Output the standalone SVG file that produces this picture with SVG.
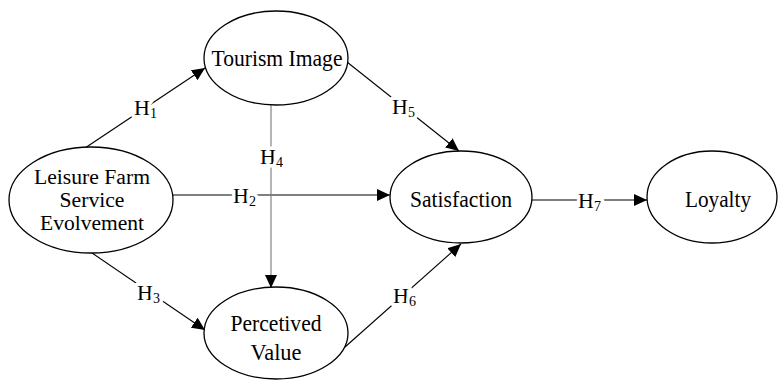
<svg xmlns="http://www.w3.org/2000/svg" width="778" height="380" viewBox="0 0 778 380">
<style>
.node{fill:#fff;stroke:#000;stroke-width:1.3}
.nt{font-family:'Liberation Serif','Times New Roman',serif;font-size:23.5px;fill:#000;text-anchor:middle}
.nt2{font-size:20.5px}
.edge{stroke:#000;stroke-width:1.1;fill:none}
.gray{stroke:#777}
.lbl{font-family:'Liberation Serif','Times New Roman',serif;font-size:22px;fill:#000;stroke:#fff;stroke-width:7;paint-order:stroke;stroke-linejoin:round}
.sub{font-size:14px}
</style>
<defs>
<marker id="ah" markerUnits="userSpaceOnUse" markerWidth="14" markerHeight="12" refX="13" refY="6" orient="auto">
<path d="M0,0 L13,6 L0,12 Z" fill="#000"/>
</marker>
</defs>
<rect width="778" height="380" fill="#fff"/>
<g id="connectors">
<line class="edge" x1="85" y1="148" x2="205" y2="68" marker-end="url(#ah)"/>
<line class="edge" x1="173" y1="195" x2="390" y2="195" marker-end="url(#ah)"/>
<line class="edge" x1="92" y1="253" x2="205" y2="330" marker-end="url(#ah)"/>
<line class="edge gray" x1="271" y1="105" x2="271" y2="288" marker-end="url(#ah)"/>
<line class="edge" x1="347" y1="62" x2="459" y2="151" marker-end="url(#ah)"/>
<line class="edge" x1="345" y1="347" x2="461" y2="244" marker-end="url(#ah)"/>
<line class="edge" x1="532" y1="200" x2="647" y2="200" marker-end="url(#ah)"/>
<text class="lbl" x="134" y="115">H<tspan class="sub" dy="3">1</tspan></text>
<text class="lbl" x="233" y="203">H<tspan class="sub" dy="3">2</tspan></text>
<text class="lbl" x="137" y="300">H<tspan class="sub" dy="3">3</tspan></text>
<text class="lbl" x="260" y="164">H<tspan class="sub" dy="3">4</tspan></text>
<text class="lbl" x="392" y="114">H<tspan class="sub" dy="3">5</tspan></text>
<text class="lbl" x="393" y="303">H<tspan class="sub" dy="3">6</tspan></text>
<text class="lbl" x="578" y="208">H<tspan class="sub" dy="3">7</tspan></text>
</g>
<g id="node-tourism">
<ellipse class="node" cx="276" cy="58" rx="72" ry="47"/>
<text class="nt" x="277" y="66" textLength="131" lengthAdjust="spacingAndGlyphs">Tourism Image</text>
</g>
<g id="node-leisure">
<ellipse class="node" cx="91" cy="200" rx="82" ry="53"/>
<text class="nt nt2"><tspan x="92" y="184" textLength="116" lengthAdjust="spacingAndGlyphs">Leisure Farm</tspan><tspan x="92" y="207" textLength="65" lengthAdjust="spacingAndGlyphs">Service</tspan><tspan x="92" y="230" textLength="104" lengthAdjust="spacingAndGlyphs">Evolvement</tspan></text>
</g>
<g id="node-perceived">
<ellipse class="node" cx="276" cy="333" rx="72" ry="46"/>
<text class="nt" x="276" y="331" textLength="91" lengthAdjust="spacingAndGlyphs">Percetived</text>
<text class="nt" x="276" y="360" textLength="51" lengthAdjust="spacingAndGlyphs">Value</text>
</g>
<g id="node-satisfaction">
<ellipse class="node" cx="461" cy="197" rx="71" ry="46"/>
<text class="nt" x="461" y="207" textLength="102" lengthAdjust="spacingAndGlyphs">Satisfaction</text>
</g>
<g id="node-loyalty">
<ellipse class="node" cx="712" cy="197" rx="65" ry="46"/>
<text class="nt" x="718" y="207" textLength="66" lengthAdjust="spacingAndGlyphs">Loyalty</text>
</g>
</svg>
